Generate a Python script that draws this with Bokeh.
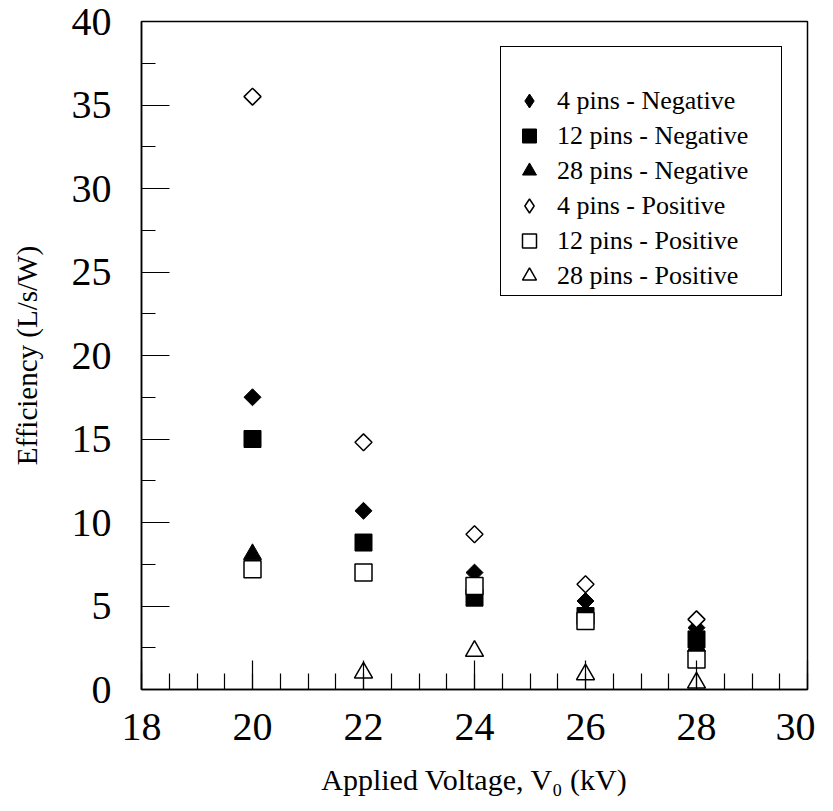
import numpy as np
from bokeh.plotting import figure
from bokeh.models import Legend, LegendItem, FixedTicker, Range1d
from bokeh.embed import file_html
from bokeh.resources import INLINE

nan = float("nan")

# ---- data ----
voltage = [20, 22, 24, 26, 28]
neg_4pins = [17.5, 10.7, 7.0, 5.3, 3.7]
neg_12pins = [15.0, 8.8, 5.5, 4.4, 3.0]
neg_28pins = [8.1, nan, nan, nan, 2.6]
pos_4pins = [35.5, 14.8, 9.3, 6.3, 4.2]
pos_12pins = [7.2, 7.0, 6.2, 4.1, 1.8]
pos_28pins = [nan, 1.0, 2.3, 0.9, 0.4]

series_labels = ["4 pins - Negative", "12 pins - Negative", "28 pins - Negative",
                 "4 pins - Positive", "12 pins - Positive", "28 pins - Positive"]

x_ticks = [18, 20, 22, 24, 26, 28, 30]
y_ticks = [0, 5, 10, 15, 20, 25, 30, 35, 40]

FONT = "Liberation Serif"

p = figure(width=815, height=800,
           x_range=Range1d(18, 30), y_range=Range1d(0, 40),
           output_backend="svg", toolbar_location=None,
           min_border_left=141, min_border_right=8,
           min_border_top=21, min_border_bottom=111)

p.xgrid.visible = False
p.ygrid.visible = False
p.outline_line_color = "black"
p.outline_line_width = 1.5
p.outline_line_alpha = 1.0
p.background_fill_color = "white"
p.border_fill_color = "white"

# x axis
xa = p.xaxis[0]
xa.ticker = FixedTicker(ticks=x_ticks, minor_ticks=list(np.arange(18, 30.01, 0.5)))
xa.major_tick_in = 29
xa.major_tick_out = 0
xa.minor_tick_in = 16
xa.minor_tick_out = 0
xa.axis_line_color = "black"
xa.axis_line_width = 1.5
xa.major_tick_line_color = "black"
xa.minor_tick_line_color = "black"
xa.major_tick_line_width = 1.2
xa.minor_tick_line_width = 1.2
xa.major_label_text_font = FONT
xa.major_label_text_font_size = "40px"
xa.major_label_text_color = "black"
xa.major_label_standoff = 24
xa.axis_label = "Applied Voltage, V\u2080 (kV)"
xa.axis_label_text_font = FONT
xa.axis_label_text_font_size = "30px"
xa.axis_label_text_font_style = "normal"
xa.axis_label_text_color = "black"
xa.axis_label_standoff = 20

# y axis
ya = p.yaxis[0]
ya.ticker = FixedTicker(ticks=y_ticks, minor_ticks=list(np.arange(0, 40.01, 2.5)))
ya.major_tick_in = 28
ya.major_tick_out = 0
ya.minor_tick_in = 14
ya.minor_tick_out = 0
ya.axis_line_color = "black"
ya.axis_line_width = 1.5
ya.major_tick_line_color = "black"
ya.minor_tick_line_color = "black"
ya.major_tick_line_width = 1.2
ya.minor_tick_line_width = 1.2
ya.major_label_text_font = FONT
ya.major_label_text_font_size = "40px"
ya.major_label_text_color = "black"
ya.major_label_standoff = 30
ya.axis_label = "Efficiency (L/s/W)"
ya.axis_label_text_font = FONT
ya.axis_label_text_font_size = "29px"
ya.axis_label_text_font_style = "normal"
ya.axis_label_text_color = "black"
ya.axis_label_standoff = 26

# data markers (diamonds = squares rotated 45 degrees)
r1 = p.scatter(voltage, neg_4pins, marker="square", angle=np.pi / 4, size=12,
               fill_color="black", line_color="black", line_width=1)
r2 = p.scatter(voltage, neg_12pins, marker="square", size=17,
               fill_color="black", line_color="black", line_width=1)
r3 = p.scatter(voltage, neg_28pins, marker="triangle", size=18,
               fill_color="black", line_color="black", line_width=1)
r4 = p.scatter(voltage, pos_4pins, marker="square", angle=np.pi / 4, size=12,
               fill_color="white", line_color="black", line_width=1.5)
r5 = p.scatter(voltage, pos_12pins, marker="square", size=17,
               fill_color="white", line_color="black", line_width=1.5)
r6 = p.scatter(voltage, pos_28pins, marker="triangle", size=18,
               fill_color="white", line_color="black", line_width=1.5)

# legend-only proxies for the diamond series (legend ignores marker angle)
k1 = p.scatter([nan], [nan], marker="diamond", size=12,
               fill_color="black", line_color="black", line_width=1)
k4 = p.scatter([nan], [nan], marker="diamond", size=12,
               fill_color="white", line_color="black", line_width=1.5)

legend = Legend(items=[
    LegendItem(label=series_labels[0], renderers=[k1]),
    LegendItem(label=series_labels[1], renderers=[r2]),
    LegendItem(label=series_labels[2], renderers=[r3]),
    LegendItem(label=series_labels[3], renderers=[k4]),
    LegendItem(label=series_labels[4], renderers=[r5]),
    LegendItem(label=series_labels[5], renderers=[r6]),
], location="top_right")
legend.margin = 25
legend.padding = 2
legend.spacing = 0
legend.glyph_width = 52
legend.glyph_height = 35
legend.label_height = 28
legend.label_width = 222
legend.label_standoff = 2
legend.label_text_font = FONT
legend.label_text_font_size = "26px"
legend.label_text_color = "black"
legend.title = " "
legend.title_text_font_size = "24px"
legend.title_standoff = 6
legend.border_line_color = "black"
legend.border_line_width = 1.2
legend.border_line_alpha = 1.0
legend.background_fill_color = "white"
legend.background_fill_alpha = 1.0
p.add_layout(legend)

open("out.html", "w").write(file_html(p, INLINE))
